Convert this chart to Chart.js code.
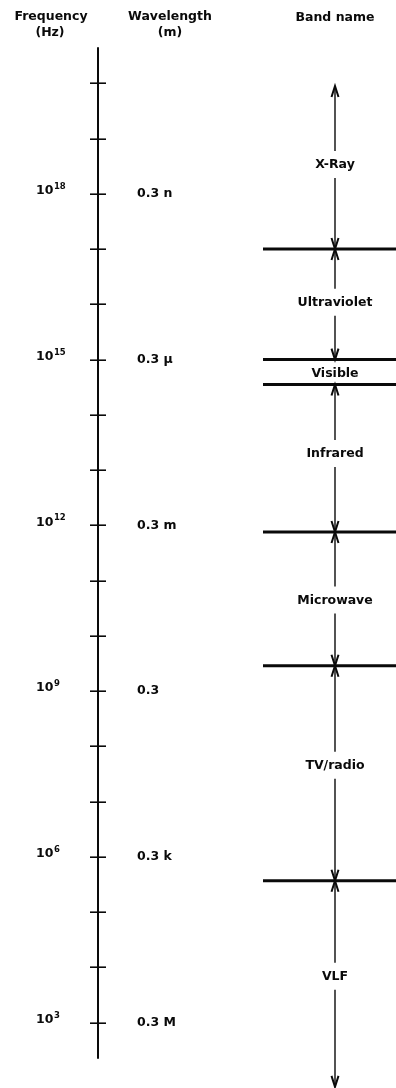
<!DOCTYPE html>
<html>
<head>
<meta charset="utf-8">
<script src="https://cdn.jsdelivr.net/npm/chart.js@4.4.0/dist/chart.umd.min.js"></script>
<style>
  html, body { margin: 0; padding: 0; background: #fff; }
</style>
</head>
<body>
<canvas id="spectrum" width="396" height="1088"></canvas>
<script>
// decades with a tick on the frequency axis (log10 Hz)
const tickDecades = [3, 4, 5, 6, 7, 8, 9, 10, 11, 12, 13, 14, 15, 16, 17, 18, 19, 20];
// decades that carry a label
const labelDecades = [18, 15, 12, 9, 6, 3];
const wavelengthLabels = ['0.3 n', '0.3 \u03bc', '0.3 m', '0.3', '0.3 k', '0.3 M'];
// extent of the drawn axis (log10 Hz)
const axisExtent = [2.35, 20.65];

const bandNames = ['X-Ray', 'Ultraviolet', 'Visible', 'Infrared', 'Microwave', 'TV/radio', 'VLF'];
// band edges top to bottom (log10 Hz); first and last are open arrow ends
const bandEdges = [19.95, 17, 15, 14.55, 11.88, 9.46, 5.57, 1.84];
// where each band name sits (log10 Hz)
const bandLabelAt = [18.52, 16.03, 14.74, 13.29, 10.64, 7.65, 3.83];

const FONT = '"DejaVu Sans", sans-serif';
const TEXT = 'bold 12.5px ' + FONT;
const SUP = 'bold 8.5px ' + FONT;
const INK = '#0a0a0a';

// column positions (px)
const AXIS_X = 98;
const FREQ_X = 36;
const WAVE_X = 137;
const BAND_X = 335;
const EDGE_X0 = 263;
const EDGE_X1 = 396;

const spectrumPlugin = {
    id: 'spectrum',
    afterDraw(chart) {
        const ctx = chart.ctx;
        const ys = chart.scales.y;
        const py = e => ys.getPixelForValue(Math.pow(10, e));

        ctx.save();
        ctx.strokeStyle = INK;
        ctx.fillStyle = INK;
        ctx.lineCap = 'butt';

        // headers
        ctx.font = TEXT;
        ctx.textAlign = 'center';
        ctx.textBaseline = 'middle';
        ctx.fillText('Frequency', 51, 17);
        ctx.fillText('(Hz)', 50, 33);
        ctx.fillText('Wavelength', 170, 17);
        ctx.fillText('(m)', 170, 33);
        ctx.fillText('Band name', BAND_X, 18);

        // frequency axis
        ctx.lineWidth = 2;
        ctx.beginPath();
        ctx.moveTo(AXIS_X, py(axisExtent[1]));
        ctx.lineTo(AXIS_X, py(axisExtent[0]));
        ctx.stroke();

        ctx.lineWidth = 1.6;
        tickDecades.forEach(d => {
            const y = Math.round(py(d)) + 0.2;
            ctx.beginPath();
            ctx.moveTo(AXIS_X - 8, y);
            ctx.lineTo(AXIS_X + 8, y);
            ctx.stroke();
        });

        // frequency and wavelength labels
        labelDecades.forEach((d, i) => {
            const y = py(d);
            ctx.textAlign = 'left';
            ctx.textBaseline = 'middle';
            ctx.font = TEXT;
            ctx.fillText('10', FREQ_X, y - 3);
            const w = ctx.measureText('10').width;
            ctx.font = SUP;
            ctx.textBaseline = 'alphabetic';
            ctx.fillText(String(d), FREQ_X + w + 0.5, y - 5);
            ctx.font = TEXT;
            ctx.textBaseline = 'middle';
            ctx.fillText(wavelengthLabels[i], WAVE_X, y);
        });

        // band boundaries
        ctx.lineWidth = 3;
        for (let i = 1; i < bandEdges.length - 1; i++) {
            const y = py(bandEdges[i]);
            ctx.beginPath();
            ctx.moveTo(EDGE_X0, y);
            ctx.lineTo(EDGE_X1, y);
            ctx.stroke();
        }

        // arrows and band names
        const head = (y, dir) => {
            ctx.beginPath();
            ctx.moveTo(BAND_X - 3.5, y + dir * 11);
            ctx.lineTo(BAND_X, y);
            ctx.lineTo(BAND_X + 3.5, y + dir * 11);
            ctx.stroke();
        };
        bandNames.forEach((name, i) => {
            const yTop = py(bandEdges[i]);
            const yBot = py(bandEdges[i + 1]);
            const yL = py(bandLabelAt[i]);
            if (yBot - yTop > 40) {
                ctx.lineWidth = 1.4;
                ctx.beginPath();
                ctx.moveTo(BAND_X, yTop + 1);
                ctx.lineTo(BAND_X, yL - 14);
                ctx.moveTo(BAND_X, yL + 13);
                ctx.lineTo(BAND_X, yBot - 1);
                ctx.stroke();
                ctx.lineWidth = 2;
                head(yTop, 1);
                head(yBot, -1);
            }
            ctx.font = TEXT;
            ctx.textAlign = 'center';
            ctx.textBaseline = 'middle';
            ctx.fillText(name, BAND_X, yL);
        });

        ctx.restore();
    }
};

new Chart(document.getElementById('spectrum'), {
    type: 'scatter',
    data: { datasets: [] },
    options: {
        responsive: false,
        animation: false,
        devicePixelRatio: 1,
        layout: { padding: { top: 28, bottom: 10, left: 0, right: 0 } },
        scales: {
            x: { type: 'linear', display: false, min: 0, max: 1 },
            y: { type: 'logarithmic', display: false, min: 1e2, max: 1e21 }
        },
        plugins: {
            legend: { display: false },
            tooltip: { enabled: false }
        }
    },
    plugins: [spectrumPlugin]
});
</script>
</body>
</html>
